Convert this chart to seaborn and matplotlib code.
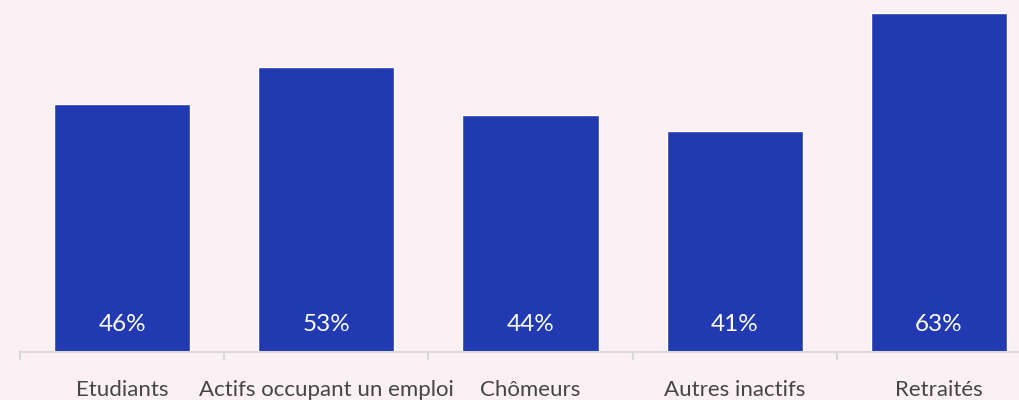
import matplotlib
matplotlib.use("Agg")
import matplotlib.pyplot as plt
import seaborn as sns
import pandas as pd
import numpy as np

# データ
categories = ["Etudiants", "Actifs occupant un emploi", "Chômeurs", "Autres inactifs", "Retraités"]
values = [46, 53, 44, 41, 63]

bg = "#fbf0f3"
bar_color = "#2139b1"

sns.set_theme(style="white")
plt.rcParams["font.family"] = ["Lato", "DejaVu Sans"]

df = pd.DataFrame({"cat": categories, "val": values})

fig = plt.figure(figsize=(10.2, 4), dpi=100, facecolor=bg)
ax = fig.add_axes([20 / 1020, 48 / 400, 1021 / 1020, 352 / 400])
ax.set_facecolor(bg)

sns.barplot(data=df, x="cat", y="val", color=bar_color, saturation=1,
            width=2 / 3, ax=ax)

ax.set_xlim(-0.5, 4.5)
ax.set_ylim(0, 63 * 352 / 339)

# 値ラベル
for i, v in enumerate(values):
    ax.annotate(f"{v}%", (i, 0), xytext=(0, 20), textcoords="offset points",
                ha="center", va="center", color="white", fontsize=17.5)

# 軸
for s in ["top", "right", "left"]:
    ax.spines[s].set_visible(False)
ax.spines["bottom"].set_color("#d9d9d9")
ax.spines["bottom"].set_linewidth(1.5)
ax.set_yticks([])
ax.set_xlabel("")
ax.set_ylabel("")

ax.set_xticks(np.arange(-0.5, 5, 1))
ax.set_xticklabels([])
ax.tick_params(axis="x", which="major", length=6, width=1.5, color="#d9d9d9",
               bottom=True, direction="out")
ax.set_xticks(np.arange(5), minor=True)
ax.set_xticklabels(categories, minor=True)
ax.tick_params(axis="x", which="minor", length=0, pad=20, labelsize=16,
               labelcolor="#454545")

fig.savefig("out.png", dpi=100, facecolor=bg)
